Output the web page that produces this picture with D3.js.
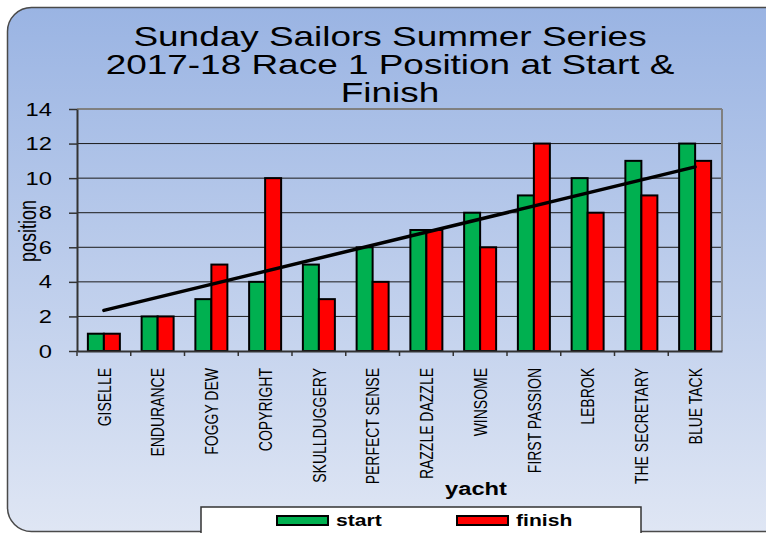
<!DOCTYPE html>
<html>
<head>
<meta charset="utf-8">
<script src="https://cdn.jsdelivr.net/npm/d3@7"></script>
<style>
    body { margin: 0; background: #fff; }
    svg { display: block; font-family: "Liberation Sans", Arial, sans-serif; }
</style>
</head>
<body>
<div id="chart"></div>
<script>
// Chart data
const yachts = ['GISELLE', 'ENDURANCE', 'FOGGY DEW', 'COPYRIGHT', 'SKULLDUGGERY', 'PERFECT SENSE',
    'RAZZLE DAZZLE', 'WINSOME', 'FIRST PASSION', 'LEBROK', 'THE SECRETARY', 'BLUE TACK'];
const startPos = [1, 2, 3, 4, 5, 6, 7, 8, 9, 10, 11, 12];
const finishPos = [1, 2, 5, 10, 3, 4, 7, 6, 12, 8, 9, 11];
const seriesNames = ['start', 'finish'];
const seriesColors = ['#00b050', '#ff0000'];
const yTicks = [0, 2, 4, 6, 8, 10, 12, 14];
// trend line values at first and last yacht
const trendValues = [2.35, 10.65];
const titleLines = ['Sunday Sailors Summer Series', '2017-18 Race 1 Position at Start &', 'Finish'];

const width = 766;
const height = 533;
const SX = 1.32; // the picture's text is stretched sideways
const margin = {top: 109, right: 44, bottom: 182, left: 77};

const svg = d3.select('#chart')
    .append('svg')
    .attr('width', width)
    .attr('height', height);

// Background panel with gradient
const defs = svg.append('defs');
const grad = defs.append('linearGradient')
    .attr('id', 'bg')
    .attr('x1', '0%').attr('y1', '0%')
    .attr('x2', '0%').attr('y2', '100%');
grad.append('stop').attr('offset', '0%').attr('stop-color', '#9ab4e3');
grad.append('stop').attr('offset', '100%').attr('stop-color', '#dfe6f4');

svg.append('rect')
    .attr('x', 7.5).attr('y', 7.5)
    .attr('width', 790).attr('height', 524)
    .attr('rx', 24)
    .attr('fill', 'url(#bg)')
    .attr('stroke', '#4a4a4a')
    .attr('stroke-width', 1.5);

// Title
svg.append('g')
    .selectAll('text')
    .data(titleLines)
    .enter()
    .append('text')
    .attr('transform', (d, i) => `translate(390,${46 + i * 28}) scale(${SX},1)`)
    .attr('text-anchor', 'middle')
    .attr('font-size', 28)
    .attr('fill', '#000')
    .text(d => d);

// Scales
const x = d3.scaleBand()
    .domain(yachts)
    .range([margin.left, width - margin.right])
    .padding(0);

const xSub = d3.scaleBand()
    .domain(seriesNames)
    .range([0, x.bandwidth()])
    .paddingInner(0)
    .paddingOuter(0.68);

const y = d3.scaleLinear()
    .domain([0, 14])
    .range([height - margin.bottom, margin.top]);

const plotRight = width - margin.right;

// Gridlines
svg.append('g')
    .selectAll('line')
    .data(yTicks.filter(d => d > 0))
    .enter()
    .append('line')
    .attr('x1', margin.left)
    .attr('x2', plotRight)
    .attr('y1', d => y(d))
    .attr('y2', d => y(d))
    .attr('stroke', d => d === 14 ? '#808080' : '#1a1a1a')
    .attr('stroke-width', d => d === 14 ? 2 : 1);

// Right border of plot area
svg.append('line')
    .attr('x1', plotRight).attr('x2', plotRight)
    .attr('y1', y(14)).attr('y2', y(0))
    .attr('stroke', '#808080')
    .attr('stroke-width', 2);

// Bars
const rows = yachts.map((name, i) => ({name, values: [startPos[i], finishPos[i]]}));

const groups = svg.append('g')
    .selectAll('g')
    .data(rows)
    .enter()
    .append('g')
    .attr('transform', d => `translate(${x(d.name)},0)`);

groups.selectAll('rect')
    .data(d => d.values.map((v, j) => ({key: seriesNames[j], value: v, color: seriesColors[j]})))
    .enter()
    .append('rect')
    .attr('x', d => xSub(d.key))
    .attr('y', d => y(d.value))
    .attr('width', xSub.bandwidth())
    .attr('height', d => y(0) - y(d.value))
    .attr('fill', d => d.color)
    .attr('stroke', '#000')
    .attr('stroke-width', 2);

// Trend line
svg.append('line')
    .attr('x1', x(yachts[0]) + x.bandwidth() / 2)
    .attr('y1', y(trendValues[0]))
    .attr('x2', x(yachts[yachts.length - 1]) + x.bandwidth() / 2)
    .attr('y2', y(trendValues[1]))
    .attr('stroke', '#000')
    .attr('stroke-width', 3.5)
    .attr('stroke-linecap', 'round');

// Y axis
const yAxis = svg.append('g')
    .attr('transform', `translate(${margin.left},0)`)
    .call(d3.axisLeft(y).tickValues(yTicks).tickSize(8).tickSizeOuter(0).tickFormat(d3.format('d')));
yAxis.select('.domain').attr('stroke', '#333').attr('stroke-width', 2);
yAxis.selectAll('.tick line').attr('stroke', '#333').attr('stroke-width', 1.5);
yAxis.selectAll('.tick text').remove();

svg.append('g')
    .selectAll('text')
    .data(yTicks)
    .enter()
    .append('text')
    .attr('transform', d => `translate(52,${y(d) + 6.5}) scale(${SX},1)`)
    .attr('text-anchor', 'end')
    .attr('font-size', 18)
    .text(d => d);

// X axis
const xAxis = svg.append('g')
    .attr('transform', `translate(0,${y(0)})`)
    .call(d3.axisBottom(x).tickSize(0).tickFormat(''));
xAxis.select('.domain').attr('stroke', '#333').attr('stroke-width', 2);

// band boundary ticks
svg.append('g')
    .selectAll('line')
    .data(yachts)
    .enter()
    .append('line')
    .attr('x1', d => x(d))
    .attr('x2', d => x(d))
    .attr('y1', y(0))
    .attr('y2', y(0) + 5)
    .attr('stroke', '#333')
    .attr('stroke-width', 1.5);

// rotated category labels
svg.append('g')
    .selectAll('text')
    .data(yachts)
    .enter()
    .append('text')
    .attr('transform', d => `translate(${x(d) + x.bandwidth() / 2},368) rotate(-90) scale(1,${SX})`)
    .attr('text-anchor', 'end')
    .attr('dy', '0.36em')
    .attr('font-size', 14)
    .text(d => d);

// Axis titles
svg.append('text')
    .attr('transform', `translate(36,231) rotate(-90) scale(1,${SX})`)
    .attr('text-anchor', 'middle')
    .attr('font-size', 18)
    .text('position');

svg.append('text')
    .attr('transform', `translate(476,495) scale(${SX},1)`)
    .attr('text-anchor', 'middle')
    .attr('font-size', 18)
    .attr('font-weight', 'bold')
    .text('yacht');

// Legend
const legend = svg.append('g');
legend.append('rect')
    .attr('x', 201).attr('y', 507)
    .attr('width', 440).attr('height', 40)
    .attr('fill', '#fff')
    .attr('stroke', '#333')
    .attr('stroke-width', 1.5);

const legendX = [277, 457];
seriesNames.forEach((name, i) => {
    legend.append('rect')
        .attr('x', legendX[i]).attr('y', 516)
        .attr('width', 51).attr('height', 9)
        .attr('fill', seriesColors[i])
        .attr('stroke', '#000')
        .attr('stroke-width', 2);
    legend.append('text')
        .attr('transform', `translate(${legendX[i] + 59},526) scale(${SX},1)`)
        .attr('font-size', 16)
        .attr('font-weight', 'bold')
        .text(name);
});
</script>
</body>
</html>
